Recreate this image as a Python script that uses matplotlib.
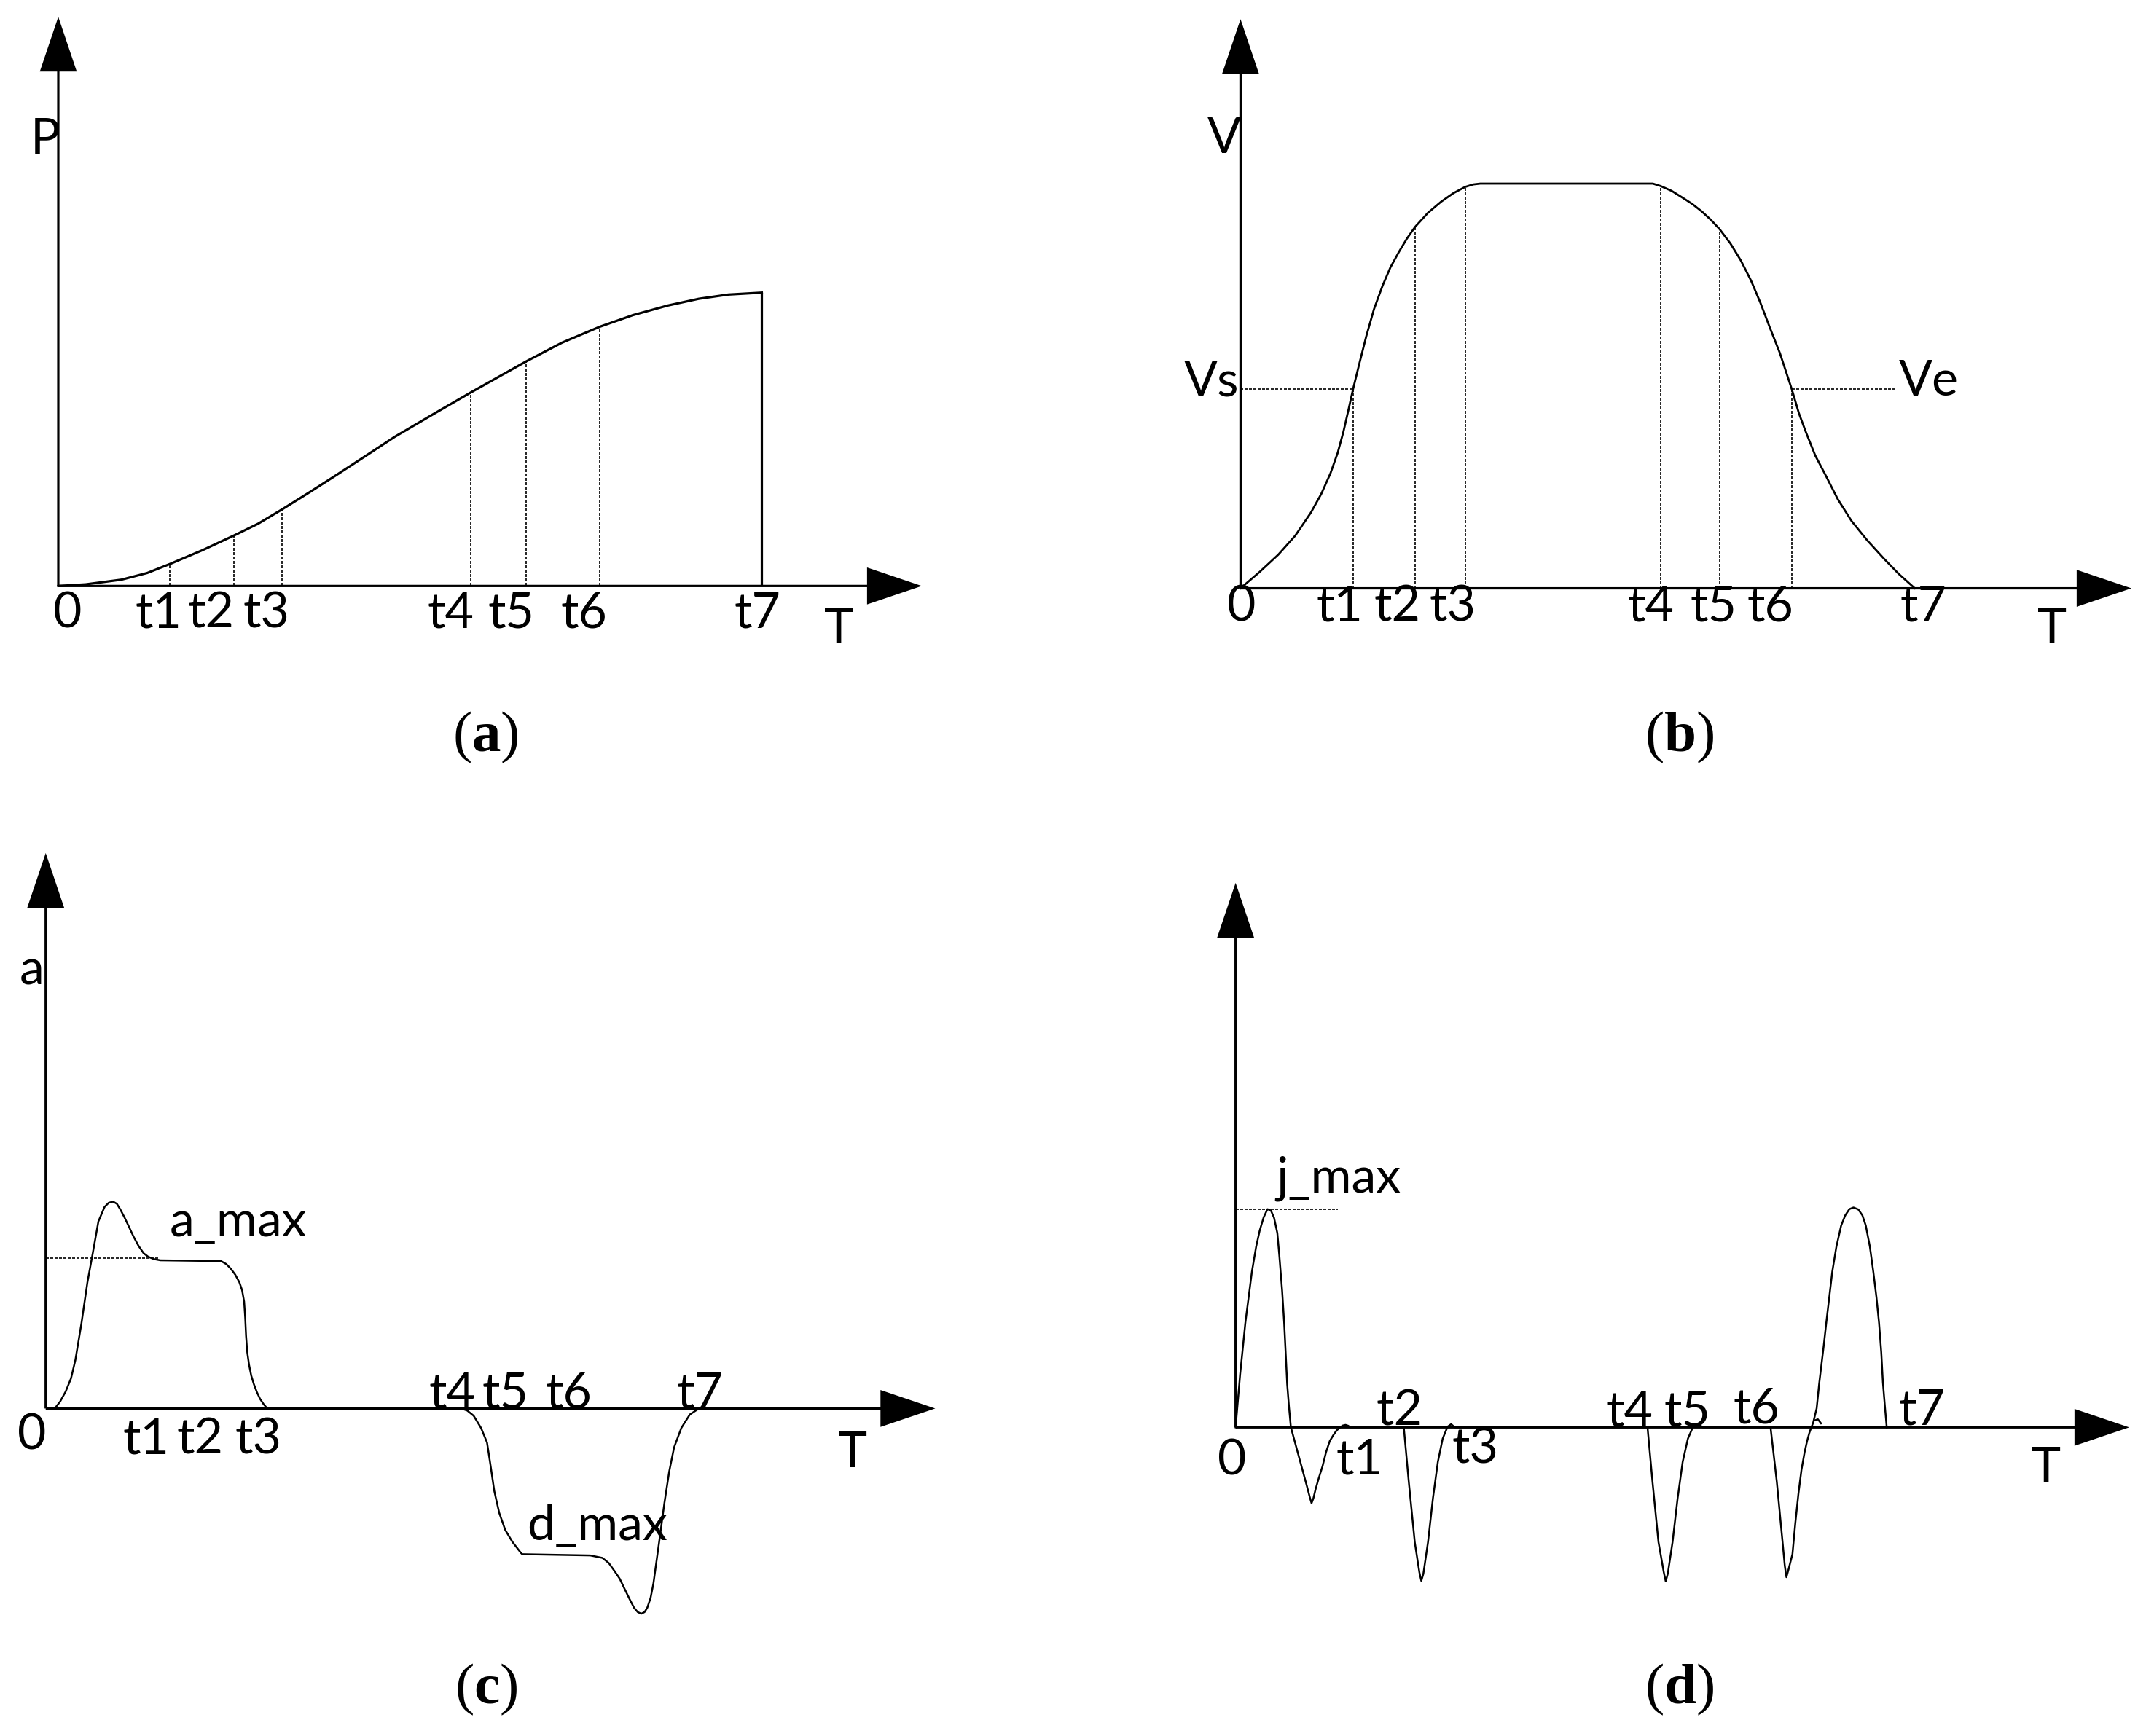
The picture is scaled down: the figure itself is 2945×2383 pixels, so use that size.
"""
S-curve motion profile: position, velocity, acceleration and jerk sketches.
"""

import numpy as np
import matplotlib.pyplot as plt

plt.rcParams["font.family"] = ["Lato", "DejaVu Sans"]
plt.rcParams["mathtext.fontset"] = "custom"
plt.rcParams["mathtext.bf"] = "Liberation Serif:bold"
plt.rcParams["mathtext.rm"] = "Liberation Serif"

# ==================== 1. Data (drawing units) ====================

tick_names = ["0", "t1", "t2", "t3", "t4", "t5", "t6", "t7"]
panel_letters = ["a", "b", "c", "d"]

# ---------- (a) position P(t) ----------
pos_t = [0, 20, 46.1, 65, 81.4, 105, 128.4, 146, 163.4, 182, 201.4, 223, 245.8, 273,
         301.2, 322, 342, 368, 395.7, 420, 445.4, 468, 489.7, 514.1]
pos_val = [0, 1.2, 4.6, 9.5, 16, 26, 36.9, 45.5, 55.9, 67.5, 79.9, 94, 109, 125,
           141.3, 153, 164.2, 177.8, 189.5, 198, 205, 209.9, 213, 214.4]
pos_marks = [81.4, 128.4, 163.4, 301.2, 342.0, 395.7, 514.1]

# ---------- (b) velocity V(t) ----------
vel_t = [0, 14, 27.6, 40, 51.4, 59, 65.7, 71, 75.2, 79, 82.3, 87, 91.9, 97.5, 103.8, 109.5,
         115.7, 121.5, 127.6, 137, 146.6, 155.5, 164.2, 170, 175.2, 301.3, 307.0, 315,
         322.7, 330, 337.0, 343.5, 349.9, 358, 365.6, 373, 379.8, 387, 394.1, 402.7,
         408, 413.2, 420, 427.4, 436.5, 446.5, 458, 470.3, 481, 492.7]
vel_val = [0, 12, 24.6, 38.5, 55.3, 69, 84, 99, 114.5, 131, 145.9, 165, 184.3, 204, 221.2,
           234.5, 245.8, 255.5, 264.2, 274.5, 282.6, 288.8, 293.4, 295.2, 295.8, 295.8,
           294, 290.5, 285.7, 281, 275.5, 269.5, 262.7, 252, 239.6, 225, 208.9, 190, 172,
           145.9, 128, 114, 97, 82.9, 65, 49.2, 35, 21.5, 10.5, 0]
vel_marks = [82.3, 127.6, 164.2, 307.0, 349.9, 402.7]
ve_line_end = 479

# ---------- (c) acceleration a(t) ----------
acc_t = [6.6, 10.5, 14.6, 18.5, 21.7, 26.1, 30.5, 34.4, 38.5, 43, 46, 49.2, 52, 54.5,
         57.5, 60.7, 64, 67.8, 71.5, 74.9, 79, 83.8, 128.2, 132, 135.3, 138.5, 141.5,
         143.5, 145, 145.8, 146.4, 147.3, 148.6, 150.2, 152.1, 154.3, 156.6, 159.2, 161.9,
         303.5, 308, 312.7, 318.1, 322.5, 325.2, 327.8, 331.4, 335.8, 341.1, 347.3, 348.2,
         397.9, 406.8, 411.5, 415.7, 419.5, 422.8, 426.5, 429.9, 432.6, 435.2, 437.6,
         439.6, 442, 444.1, 448.5, 452.1, 455.6, 459.2, 464.5, 470.7, 476.0, 480.5]
acc_val = [0, 5, 12.4, 22, 35.5, 62.1, 92.3, 113.6, 136.7, 147.3, 150.3, 151.2, 149.6,
           145.5, 139.8, 133.1, 126, 118.9, 113.5, 110.9, 109.2, 108.3, 107.7, 105.5, 102.1,
           97.8, 92.3, 86.5, 78.1, 66, 53.3, 41, 31.9, 24, 17.8, 12, 7.1, 3.2, 0,
           0, -1.5, -5.3, -14.2, -24.9, -42.6, -60.4, -76.3, -88.8, -97.6, -105.6, -106.5,
           -107.4, -109.2, -113, -118.9, -124.5, -131.4, -139, -145.6, -148.8, -150,
           -148.8, -145.6, -138.5, -127.8, -95.9, -69.2, -46.2, -28.4, -14.2, -4.4, -0.9, 1.8]
a_max_level = 110
a_max_line_end = 83.8

# ---------- (d) jerk j(t) ----------
jerk_t = [0, 3.3, 7.1, 11.9, 15, 17.6, 20.5, 23.3, 25.8, 28.1, 30.5, 32, 34, 35.5, 36.8,
          37.7, 39, 40.4, 44, 48, 52, 54.2, 55.5, 56.8, 58.5, 60.8, 63.5, 66.1, 68.8, 71.4,
          73.8, 75.9, 78.2, 80.3, 82.2, 83.9,
          122.9, 126.5, 130.9, 134.3, 135.7, 137.2, 140.6, 144.2, 147.8, 151.3, 154.9,
          157.5, 160.2,
          301, 304.6, 309, 312.9, 314.3, 315.8, 319.3, 323, 326.7, 330.5, 334.3, 338.2, 341.5,
          390.9, 395.5, 399.6, 401.3, 402.5, 404, 406.9, 409, 411.3, 413.5, 415.8, 417.6,
          419.3, 420.7, 422, 424.6, 426.4, 428, 429.8, 431.6, 433.8, 436, 439, 442.5, 445.5,
          448.5, 451.5, 455, 458, 460.5, 463.5, 466, 468.3, 470.2, 471.8, 473, 474.4, 475.8]
jerk_val = [0, 38.7, 76.2, 113.7, 132, 143.8, 153.5, 159.5, 158.5, 153.2, 142, 125, 100,
            76.2, 50, 31.6, 15, 0, -13.2, -27.9, -42.6, -51, -55.4, -52, -45, -37, -28.5,
            -18.1, -10, -5.7, -2.3, -0.4, 1.3, 1.8, 1.2, 0,
            0, -39.4, -83.8, -106, -112.2, -107, -83.8, -51.8, -25.2, -8.3, 0.5, 2.3, 0,
            0, -39.4, -83.8, -106, -112.5, -107, -83.8, -51.8, -25.2, -8.3, 0.5, 2.3, 0,
            0, -40, -83, -101, -109.5, -104, -92.7, -70, -48.3, -31, -18.1, -10, -3.9, 0,
            3.2, 13.9, 31.6, 45, 60, 76.2, 95, 113.7, 132, 147.5, 155, 159.5, 160.7, 159.3,
            155, 147.5, 132, 113.7, 95, 76.2, 55, 33, 16, 0]
jerk_hook_t = [422.9, 425.5, 427.8]
jerk_hook_val = [5.0, 5.9, 2.9]
j_max_level = 159.5
j_max_line_end = 74.7


# ==================== 2. Layout ====================

PX = 1.878                      # reference pixels per drawing unit
FIG_W, FIG_H = 2945 / PX, 2383 / PX

ORIGIN = {"a": (42.6, 428.3), "b": (906.5, 430.0), "c": (33.4, 1029.5), "d": (902.9, 1043.3)}
AXIS_LEN = {"a": (631, 416), "b": (651, 416), "c": (650, 406), "d": (653, 398)}

LABEL_X = {
    "a": [6.9, 73.2, 111.8, 151.8, 287, 331, 383.9, 511],
    "b": [0.8, 72.3, 114.6, 154.9, 299.6, 345.5, 387.2, 499],
    "c": [-10.1, 73.1, 113, 155.1, 297.1, 335.8, 382, 477.8],
    "d": [-2.6, 90.2, 119.9, 174.9, 287.8, 330.1, 380.8, 501.5],
}
LABEL_Y = {
    "a": [-30.4] * 8,
    "b": [-24] * 8,
    "c": [-30, -33, -33, -33, 0.5, 0.5, 0.5, 0.5],
    "d": [-34.6, -34.1, 1.4, -26.1, 1, 1, 3, 2],
}
T_POS = {"a": (570.5, -41.7), "b": (593, -40), "c": (589.9, -42.8), "d": (592.4, -40.2)}

CAPTION_POS = [(355, 549.3), (1227, 549.3), (355, 1245), (1227, 1245)]

FS = 49
AXIS_W, HEAD_W, HEAD_L = 1.7, 27, 40
DOT = dict(color="black", lw=1.2, linestyle=(0, (2.4, 1.2)), clip_on=False)

fig = plt.figure(figsize=(29.45, 23.83), dpi=100)
fig.patch.set_facecolor("white")


def add_panel(key, pad_left=70, pad_right=40, pad_bottom=190, pad_top=30):
    ox, oy = ORIGIN[key]
    xlen, ylen = AXIS_LEN[key]
    x0, x1 = -pad_left, xlen + pad_right
    y0, y1 = -pad_bottom, ylen + pad_top
    ax = fig.add_axes([(ox + x0) / FIG_W, 1 - (oy - y0) / FIG_H,
                       (x1 - x0) / FIG_W, (y1 - y0) / FIG_H])
    ax.set_xlim(x0, x1)
    ax.set_ylim(y0, y1)
    ax.axis("off")

    arrow_kw = dict(width=AXIS_W, head_width=HEAD_W, head_length=HEAD_L,
                    length_includes_head=True, fc="black", ec="black", lw=0)
    ax.arrow(0, 0, xlen, 0, **arrow_kw)
    ax.arrow(0, 0, 0, ylen, **arrow_kw)

    for name, lx, ly in zip(tick_names, LABEL_X[key], LABEL_Y[key]):
        ax.text(lx, ly, name, fontsize=FS, ha="center", va="baseline")
    tx, ty = T_POS[key]
    ax.text(tx, ty, "T", fontsize=FS, ha="center", va="baseline")
    return ax


# ==================== 3. Panels ====================

# ---------- (a) ----------
ax = add_panel("a")
ax.plot(pos_t, pos_val, color="black", lw=2.3, clip_on=False)
mark_h = np.interp(pos_marks, pos_t, pos_val)
ax.vlines(pos_marks[:-1], 0, mark_h[:-1], **DOT)
ax.vlines(pos_marks[-1], 0, mark_h[-1], color="black", lw=2.3)
ax.text(-9.3, 316, "P", fontsize=FS, ha="center", va="baseline")

# ---------- (b) ----------
ax = add_panel("b")
ax.plot(vel_t, vel_val, color="black", lw=2.0, clip_on=False)
mark_h = np.interp(vel_marks, vel_t, vel_val)
ax.vlines(vel_marks, 0, mark_h, **DOT)
ax.hlines(mark_h[0], 0, vel_marks[0], **DOT)
ax.hlines(mark_h[-1], vel_marks[-1], ve_line_end, **DOT)
ax.text(-12, 318, "V", fontsize=FS, ha="center", va="baseline")
ax.text(-1, 140.7, "Vs", fontsize=FS, ha="right", va="baseline")
ax.text(481, 140.7, "Ve", fontsize=FS, ha="left", va="baseline")

# ---------- (c) ----------
ax = add_panel("c")
ax.plot(acc_t, acc_val, color="black", lw=1.8, clip_on=False)
ax.hlines(a_max_level, 0, a_max_line_end, **DOT)
ax.text(-10, 310, "a", fontsize=FS, ha="center", va="baseline")
ax.text(140.6, 126, "a_max", fontsize=FS, ha="center", va="baseline")
ax.text(402.8, -95.9, "d_max", fontsize=FS, ha="center", va="baseline")

# ---------- (d) ----------
ax = add_panel("d")
ax.plot(jerk_t, jerk_val, color="black", lw=1.8, clip_on=False)
ax.plot(jerk_hook_t, jerk_hook_val, color="black", lw=1.8, clip_on=False)
ax.hlines(j_max_level, 0, j_max_line_end, **DOT)
ax.text(75.2, 171.9, "j_max", fontsize=FS, ha="center", va="baseline")

# ---------- captions: regular brackets, bold letter ----------
for letter, (cx, cy) in zip(panel_letters, CAPTION_POS):
    fig.text(cx / FIG_W, 1 - cy / FIG_H, "(" + r"$\mathbf{" + letter + "}$" + ")",
             fontsize=57, ha="center", va="baseline",
             family=["Liberation Serif", "DejaVu Serif"])

fig.savefig("out.png", dpi=100, facecolor="white")
